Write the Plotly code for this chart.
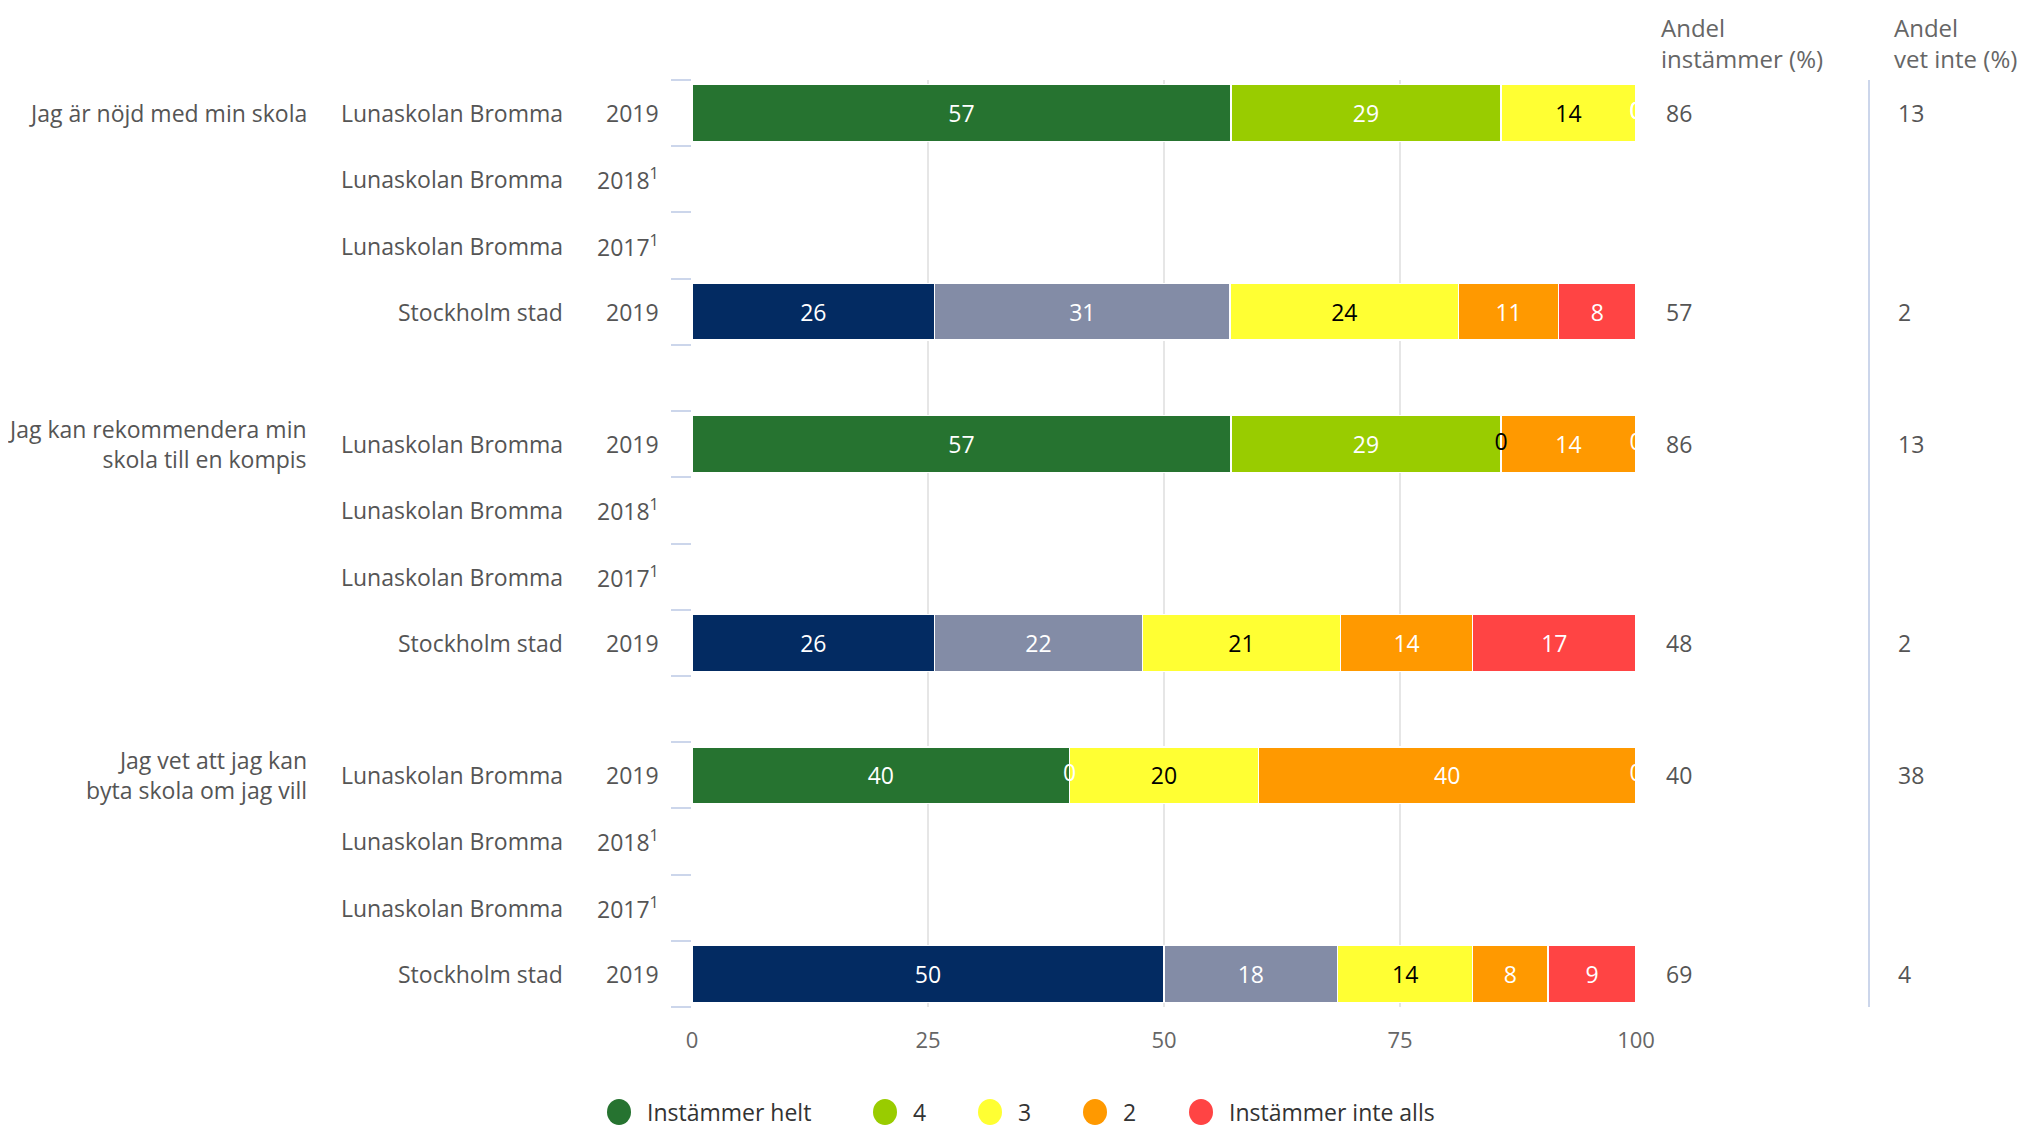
import plotly.graph_objects as go

# ---------------- data ----------------
questions = ["Jag är nöjd med min skola",
             "Jag kan rekommendera min<br>skola till en kompis",
             "Jag vet att jag kan<br>byta skola om jag vill"]
row_units = ["Lunaskolan Bromma", "Lunaskolan Bromma", "Lunaskolan Bromma", "Stockholm stad"]
row_years = ["2019", "2018<sup>1</sup>", "2017<sup>1</sup>", "2019"]
levels = ["Instämmer helt", "4", "3", "2", "Instämmer inte alls"]

# Lunaskolan Bromma 2019, one value per question
luna_helt = [57.1, 57.1, 40.0]
luna_4 = [28.6, 28.6, 0.0]
luna_3 = [14.3, 0.0, 20.0]
luna_2 = [0.0, 14.3, 40.0]
luna_inte = [0.0, 0.0, 0.0]
# Stockholm stad 2019
sthlm_helt = [25.7, 25.7, 50.0]
sthlm_4 = [31.3, 22.0, 18.4]
sthlm_3 = [24.2, 21.0, 14.3]
sthlm_2 = [10.6, 14.0, 8.0]
sthlm_inte = [8.2, 17.3, 9.3]

luna_andel_instammer = [86, 86, 40]
sthlm_andel_instammer = [57, 48, 69]
luna_andel_vet_inte = [13, 13, 38]
sthlm_andel_vet_inte = [2, 2, 4]

x_ticks = [0, 25, 50, 75, 100]

# ---------------- style ----------------
luna_colors = ["#267330", "#99cc00", "#ffff33", "#ff9900", "#ff4444"]
sthlm_colors = ["#032b62", "#838ca6", "#ffff33", "#ff9900", "#ff4444"]
label_colors = ["#ffffff", "#ffffff", "#000000", "#ffffff", "#ffffff"]
FONT = "Open Sans"
TXT = "#555555"

OFF = 8  # page body margin
W, H = 2027 - OFF, 1127 - OFF
# plot area in page pixels
L, R, T, B = 692, 1636, 80, 1007


def px_x(px):
    return (px - L) / (R - L)


def px_y(py):
    return (B - py) / (B - T)


ROWS_PER_GROUP = 5
n_slots = len(questions) * ROWS_PER_GROUP - 1
luna_rows = [g * ROWS_PER_GROUP for g in range(len(questions))]
sthlm_rows = [g * ROWS_PER_GROUP + 3 for g in range(len(questions))]

luna_series = [luna_helt, luna_4, luna_3, luna_2, luna_inte]
sthlm_series = [sthlm_helt, sthlm_4, sthlm_3, sthlm_2, sthlm_inte]

fig = go.Figure()

zero_x, zero_y, zero_c = [], [], []
for rows, series, colors in [(luna_rows, luna_series, luna_colors),
                             (sthlm_rows, sthlm_series, sthlm_colors)]:
    for k, vals in enumerate(series):
        xs = [v for v in vals if v > 0]
        ys = [r for r, v in zip(rows, vals) if v > 0]
        if xs:
            fig.add_trace(go.Bar(
                x=xs, y=ys, orientation="h", width=0.86,
                marker=dict(color=colors[k], line=dict(color="#ffffff", width=1.5)),
                text=[str(round(v)) for v in xs],
                textposition="inside", insidetextanchor="middle", textangle=0,
                constraintext="none",
                textfont=dict(family=FONT, size=23, color=label_colors[k]),
                showlegend=False, hoverinfo="skip", name=levels[k]))
    # zero-valued segments get a label at their (zero-width) position
    for q in range(len(questions)):
        cum = 0.0
        for k, vals in enumerate(series):
            if vals[q] == 0:
                zero_x.append(cum)
                zero_y.append(rows[q])
                zero_c.append(label_colors[k])
            cum += vals[q]

fig.add_trace(go.Scatter(
    x=zero_x, y=zero_y, mode="text", text=["0"] * len(zero_x),
    textfont=dict(family=FONT, size=23, color=zero_c),
    cliponaxis=True, showlegend=False, hoverinfo="skip"))

annotations = []
# row labels
for g, q in enumerate(questions):
    base = g * ROWS_PER_GROUP
    annotations.append(dict(x=px_x(309), xref="paper", y=base, yref="y",
                            text=q, showarrow=False, xanchor="right", align="right",
                            font=dict(family=FONT, size=23, color=TXT)))
    for i in range(4):
        annotations.append(dict(x=px_x(565), xref="paper", y=base + i, yref="y",
                                text=row_units[i], showarrow=False, xanchor="right",
                                font=dict(family=FONT, size=23, color=TXT)))
        annotations.append(dict(x=px_x(661), xref="paper", y=base + i, yref="y",
                                text=row_years[i], showarrow=False, xanchor="right",
                                font=dict(family=FONT, size=23, color=TXT)))

# right-hand columns
annotations.append(dict(x=px_x(1659), xref="paper", y=px_y(43), yref="paper",
                        text="Andel<br>instämmer (%)", showarrow=False, xanchor="left",
                        align="left", yanchor="middle",
                        font=dict(family=FONT, size=24, color="#666666")))
annotations.append(dict(x=px_x(1892), xref="paper", y=px_y(43), yref="paper",
                        text="Andel<br>vet inte (%)", showarrow=False, xanchor="left",
                        align="left", yanchor="middle",
                        font=dict(family=FONT, size=24, color="#666666")))
for rows, inst, vet in [(luna_rows, luna_andel_instammer, luna_andel_vet_inte),
                        (sthlm_rows, sthlm_andel_instammer, sthlm_andel_vet_inte)]:
    for r, a, b in zip(rows, inst, vet):
        annotations.append(dict(x=px_x(1664), xref="paper", y=r, yref="y",
                                text=str(a), showarrow=False, xanchor="left",
                                font=dict(family=FONT, size=23, color=TXT)))
        annotations.append(dict(x=px_x(1896), xref="paper", y=r, yref="y",
                                text=str(b), showarrow=False, xanchor="left",
                                font=dict(family=FONT, size=23, color=TXT)))

# legend (manual, circular markers)
legend_circle_px = [619, 885, 990, 1095, 1201]
shapes = [dict(type="line", xref="paper", yref="paper", x0=px_x(1869), x1=px_x(1869),
               y0=0, y1=1, line=dict(color="#ccd6eb", width=2))]
for k, name in enumerate(levels):
    cx = px_x(legend_circle_px[k])
    cy = px_y(1112)
    shapes.append(dict(type="circle", xref="paper", yref="paper",
                       xsizemode="pixel", ysizemode="pixel", xanchor=cx, yanchor=cy,
                       x0=-12, x1=12, y0=-13, y1=13,
                       fillcolor=luna_colors[k], line=dict(width=0)))
    annotations.append(dict(x=px_x(legend_circle_px[k] + 26), xref="paper", y=cy,
                            yref="paper", text=name, showarrow=False, xanchor="left",
                            yanchor="middle",
                            font=dict(family=FONT, size=23, color="#333333")))

fig.update_layout(
    width=W, height=H, autosize=False,
    margin=dict(l=L - OFF, r=W - (R - OFF), t=T - OFF, b=H - (B - OFF), pad=0),
    paper_bgcolor="white", plot_bgcolor="white",
    barmode="stack", showlegend=False,
    font=dict(family=FONT, color=TXT),
    annotations=annotations, shapes=shapes,
    xaxis=dict(range=[0, 100], tickvals=x_ticks, showgrid=True, gridcolor="#e6e6e6",
               gridwidth=1.5, zeroline=False, showline=False, ticks="",
               ticklabelstandoff=18,
               tickfont=dict(family=FONT, size=22, color="#666666")),
    yaxis=dict(range=[n_slots - 0.5, -0.5], showgrid=False, zeroline=False,
               showline=False, showticklabels=False,
               tickvals=[i - 0.5 for i in range(n_slots + 1)],
               ticks="outside", ticklen=20, tickwidth=2, tickcolor="#ccd6eb"),
)

fig.write_html("out.html")
